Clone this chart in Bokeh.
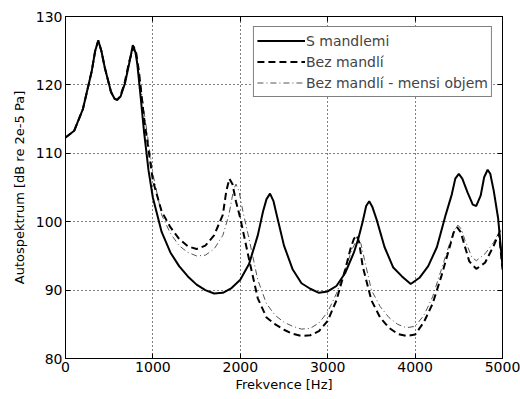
from bokeh.plotting import figure
from bokeh.models import Range1d, FixedTicker, LinearAxis, Legend, LegendItem
from bokeh.embed import file_html
from bokeh.resources import INLINE

# S mandlemi
f_s = [0, 100, 200, 300, 340, 375, 410, 450, 520, 560, 590, 630, 680, 730, 770, 800, 822, 860,
       900, 950, 1000, 1100, 1200, 1300, 1400, 1500, 1600, 1700, 1800, 1900, 2000, 2100, 2200,
       2260, 2300, 2340, 2380, 2420, 2500, 2600, 2700, 2800, 2900, 3000, 3100, 3200, 3300, 3350,
       3400, 3440, 3475, 3510, 3560, 3650, 3750, 3850, 3950, 4050, 4150, 4250, 4350, 4420, 4460,
       4500, 4540, 4600, 4660, 4700, 4750, 4790, 4830, 4860, 4900, 4950, 5000]
db_s = [112.3, 113.3, 116.5, 122.0, 125.0, 126.5, 125.0, 122.5, 119.0, 118.0, 117.8, 118.3, 120.2,
        123.2, 125.8, 124.8, 123.0, 118.2, 113.0, 107.5, 103.5, 98.5, 95.5, 93.5, 92.0, 90.8, 90.0,
        89.5, 89.6, 90.3, 91.5, 93.8, 98.0, 101.5, 103.3, 104.1, 103.0, 100.8, 96.5, 93.0, 91.0,
        90.2, 89.6, 89.8, 90.6, 92.5, 95.5, 97.5, 100.0, 102.3, 103.0, 102.2, 100.3, 96.3, 93.3,
        92.0, 90.9, 91.8, 93.5, 96.3, 101.0, 104.0, 106.3, 107.0, 106.3, 104.3, 102.5, 102.3,
        103.8, 106.5, 107.6, 107.0, 104.5, 100.5, 93.5]

# Bez mandlí
f_d = [0, 100, 200, 300, 340, 375, 410, 450, 520, 560, 590, 630, 680, 730, 780, 810, 840, 900,
       1000, 1100, 1200, 1300, 1400, 1500, 1600, 1700, 1800, 1840, 1875, 1910, 1950, 2000, 2100,
       2200, 2300, 2400, 2500, 2600, 2700, 2800, 2900, 3000, 3100, 3200, 3260, 3300, 3330, 3360,
       3400, 3500, 3600, 3700, 3800, 3900, 4000, 4100, 4200, 4300, 4400, 4440, 4480, 4520, 4560,
       4620, 4700, 4800, 4900, 4960, 5000]
db_d = [112.3, 113.3, 116.5, 122.0, 125.0, 126.5, 125.0, 122.5, 119.0, 118.0, 117.8, 118.4, 120.5,
        123.5, 125.6, 124.6, 122.0, 115.0, 106.0, 101.5, 99.2, 97.5, 96.4, 96.0, 96.5, 98.0,
        101.0, 104.5, 106.3, 105.5, 103.0, 100.5, 94.5, 88.8, 86.0, 85.0, 84.2, 83.6, 83.3, 83.4,
        84.0, 85.5, 88.5, 93.0, 96.0, 97.5, 98.0, 97.0, 93.5, 88.5, 86.0, 84.5, 83.6, 83.3, 83.5,
        85.3, 88.0, 92.0, 96.5, 98.4, 99.2, 98.5, 96.8, 94.2, 93.1, 94.0, 96.5, 98.3, 93.0]

# Bez mandlí - mensi objem
f_c = [0, 100, 200, 300, 340, 375, 410, 450, 520, 560, 590, 630, 680, 730, 775, 805, 835, 900,
       1000, 1100, 1200, 1300, 1400, 1500, 1600, 1700, 1800, 1870, 1920, 1950, 1985, 2030, 2100,
       2200, 2300, 2400, 2500, 2600, 2700, 2800, 2900, 3000, 3100, 3200, 3280, 3320, 3350, 3380,
       3420, 3500, 3600, 3700, 3800, 3900, 4000, 4100, 4200, 4300, 4400, 4450, 4490, 4530, 4570,
       4650, 4700, 4800, 4900, 4970, 5000]
db_c = [112.3, 113.3, 116.5, 122.0, 125.0, 126.5, 125.0, 122.5, 119.0, 118.0, 117.8, 118.4, 120.4,
        123.3, 125.3, 124.5, 122.3, 116.0, 107.0, 101.0, 98.3, 96.5, 95.5, 95.0, 95.1, 96.0, 98.0,
        101.0, 104.5, 105.5, 104.5, 101.5, 97.5, 91.5, 88.0, 86.3, 85.3, 84.7, 84.3, 84.4, 85.2,
        86.8, 89.5, 93.0, 96.0, 97.0, 97.3, 96.8, 94.5, 90.0, 87.6, 86.0, 85.0, 84.5, 84.7, 86.3,
        89.0, 93.0, 97.0, 98.8, 99.5, 98.9, 97.3, 94.8, 94.3, 95.3, 97.0, 98.8, 98.0]

x_ticks = [0, 1000, 2000, 3000, 4000, 5000]
y_ticks = [80, 90, 100, 110, 120, 130]

FONT = "DejaVu Sans"

p = figure(width=520, height=399, output_backend="svg", toolbar_location=None,
           x_range=Range1d(0, 5000), y_range=Range1d(80, 130),
           min_border_left=65, min_border_right=18, min_border_top=16, min_border_bottom=41)
p.outline_line_color = "black"
p.outline_line_width = 1

for ax in (p.xaxis[0], p.yaxis[0]):
    ax.major_tick_in = 5
    ax.major_tick_out = 0
    ax.minor_tick_line_color = None
    ax.axis_line_color = "black"
    ax.major_label_text_font = FONT
    ax.major_label_text_font_size = "14px"
    ax.major_label_text_color = "black"
    ax.axis_label_text_font = FONT
    ax.axis_label_text_font_size = "13px"
    ax.axis_label_text_font_style = "normal"
    ax.axis_label_text_color = "black"

p.xaxis.ticker = FixedTicker(ticks=x_ticks)
p.yaxis.ticker = FixedTicker(ticks=y_ticks)
p.xaxis.axis_label = "Frekvence [Hz]"
p.yaxis.axis_label = "Autospektrum [dB re 2e-5 Pa]"
p.xaxis.major_label_standoff = 3
p.yaxis.major_label_standoff = 3
p.xaxis.axis_label_standoff = 2
p.yaxis.axis_label_standoff = 6

top = LinearAxis(ticker=FixedTicker(ticks=x_ticks),
                 major_label_overrides={t: "" for t in x_ticks},
                 major_tick_in=5, major_tick_out=0, minor_tick_line_color=None)
right = LinearAxis(ticker=FixedTicker(ticks=y_ticks),
                   major_label_overrides={t: "" for t in y_ticks},
                   major_tick_in=5, major_tick_out=0, minor_tick_line_color=None)
p.add_layout(top, "above")
p.add_layout(right, "right")

for g in (p.xgrid[0], p.ygrid[0]):
    g.grid_line_color = "black"
    g.grid_line_dash = "1 3"
    g.grid_line_width = 1
p.xgrid[0].ticker = FixedTicker(ticks=x_ticks)
p.ygrid[0].ticker = FixedTicker(ticks=y_ticks)

r_c = p.line(f_c, db_c, line_color="#555555", line_width=1, line_dash="6 3 1 3")
r_d = p.line(f_d, db_d, line_color="black", line_width=2, line_dash="7 4")
r_s = p.line(f_s, db_s, line_color="black", line_width=2)

legend = Legend(items=[LegendItem(label="S mandlemi", renderers=[r_s]),
                       LegendItem(label="Bez mandlí", renderers=[r_d]),
                       LegendItem(label="Bez mandlí - mensi objem", renderers=[r_c])],
                location="top_right")
legend.label_text_font = FONT
legend.label_text_font_size = "14px"
legend.glyph_width = 48
legend.glyph_height = 21
legend.label_height = 21
legend.spacing = 0
legend.padding = 3
legend.margin = 10
legend.label_standoff = 1
legend.border_line_color = "black"
legend.border_line_width = 1
legend.background_fill_color = "white"
legend.background_fill_alpha = 1
p.add_layout(legend)

open("out.html", "w").write(file_html(p, INLINE))
